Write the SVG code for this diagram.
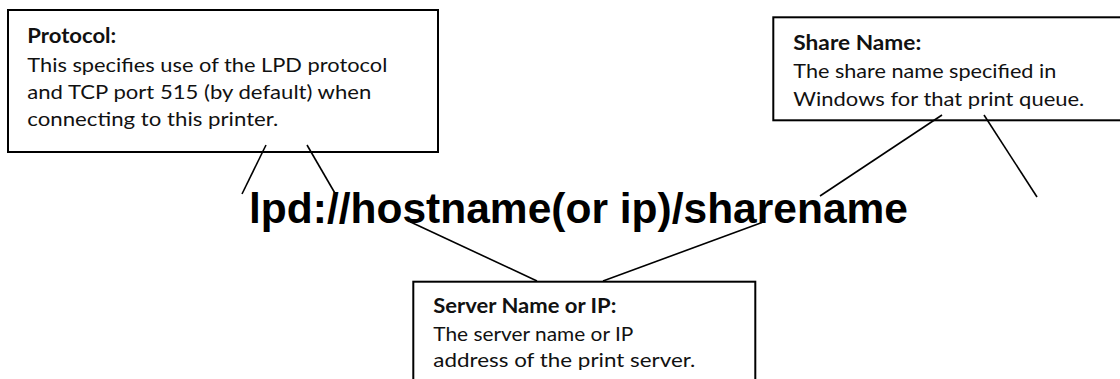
<svg xmlns="http://www.w3.org/2000/svg" width="1120" height="379" viewBox="0 0 1120 379">
<style>
.box{fill:#fff;stroke:#000;stroke-width:2}
.t{font-family:Lato,"Open Sans","Liberation Sans",sans-serif;font-size:20px;fill:#111}
.h{font-weight:bold}
.big{font-family:"Liberation Sans",Arial,sans-serif;font-weight:bold;font-size:42px;fill:#000}
.c{stroke:#000;stroke-width:1.6;fill:none}
</style>
<rect width="1120" height="379" fill="#fff"/>
<g id="protocol">
<rect class="box" x="8" y="10" width="430" height="142"/>
<text class="t h" x="27.3" y="42.7" textLength="89" lengthAdjust="spacingAndGlyphs">Protocol:</text>
<text class="t" x="27.3" y="71.7" textLength="360" lengthAdjust="spacingAndGlyphs">This specifies use of the LPD protocol</text>
<text class="t" x="27.3" y="99.3" textLength="344" lengthAdjust="spacingAndGlyphs">and TCP port 515 (by default) when</text>
<text class="t" x="27.3" y="126" textLength="251" lengthAdjust="spacingAndGlyphs">connecting to this printer.</text>
</g>
<g id="sharename">
<rect class="box" x="773.3" y="17.3" width="360" height="103"/>
<text class="t h" x="793.3" y="50" textLength="128" lengthAdjust="spacingAndGlyphs">Share Name:</text>
<text class="t" x="793.3" y="78.3" textLength="263" lengthAdjust="spacingAndGlyphs">The share name specified in</text>
<text class="t" x="793.3" y="105.5" textLength="291" lengthAdjust="spacingAndGlyphs">Windows for that print queue.</text>
</g>
<g id="server">
<rect class="box" x="413.3" y="281.7" width="342" height="120"/>
<text class="t h" x="433.3" y="313.3" textLength="183" lengthAdjust="spacingAndGlyphs">Server Name or IP:</text>
<text class="t" x="433.3" y="341" textLength="200" lengthAdjust="spacingAndGlyphs">The server name or IP</text>
<text class="t" x="433.3" y="367.3" textLength="262" lengthAdjust="spacingAndGlyphs">address of the print server.</text>
</g>
<g id="url">
<text class="big" x="249" y="222.5" textLength="659" lengthAdjust="spacingAndGlyphs">lpd://hostname(or ip)/sharename</text>
</g>
<g id="connectors">
<line class="c" x1="266" y1="145" x2="242" y2="194"/>
<line class="c" x1="307" y1="145" x2="336" y2="195"/>
<line class="c" x1="942" y1="115" x2="820" y2="196"/>
<line class="c" x1="984" y1="115" x2="1037" y2="197"/>
<line class="c" x1="410" y1="221.7" x2="537" y2="281"/>
<line class="c" x1="762" y1="222.5" x2="603" y2="281"/>
</g>
</svg>
